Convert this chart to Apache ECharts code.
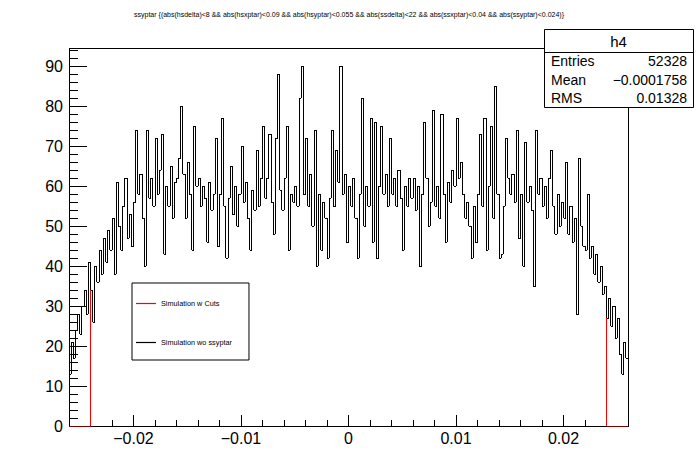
<!DOCTYPE html>
<html><head><meta charset="utf-8">
<script src="https://cdn.jsdelivr.net/npm/echarts@6/dist/echarts.min.js"></script>
<style>html,body{margin:0;padding:0;background:#fff}#c{width:698px;height:474px}
#c svg path[fill="none"]{shape-rendering:crispEdges}</style>
</head><body><div id="c"></div>
<script>
const titleText = 'ssyptar {(abs(hsdelta)<8 && abs(hsxptar)<0.09 && abs(hsyptar)<0.055 && abs(ssdelta)<22 && abs(ssxptar)<0.04 && abs(ssyptar)<0.024)}';
const xMin = -0.026, xMax = 0.026, binWidth = 0.0002;
const cutLow = -0.024, cutHigh = 0.024;
const counts = [
  13, 21, 17, 24, 28, 23, 30, 34, 28, 41,
  34, 26, 40, 36, 44, 38, 47, 41, 49, 44,
  52, 38, 61, 50, 44, 55, 62, 47, 53, 45,
  56, 74, 58, 63, 52, 40, 74, 57, 62, 55,
  72, 58, 64, 73, 43, 60, 55, 65, 52, 61,
  62, 67, 80, 63, 52, 66, 58, 44, 75, 60,
  62, 55, 60, 57, 46, 61, 54, 58, 72, 45,
  58, 77, 55, 42, 57, 65, 53, 60, 50, 58,
  70, 56, 61, 52, 44, 59, 54, 69, 55, 62,
  75, 57, 62, 73, 56, 48, 72, 88, 59, 54,
  62, 75, 44, 58, 56, 60, 55, 82, 90, 58,
  72, 55, 63, 50, 74, 40, 58, 44, 56, 52,
  42, 57, 74, 55, 69, 61, 90, 58, 63, 46,
  60, 55, 62, 52, 42, 58, 82, 50, 60, 55,
  77, 46, 76, 42, 60, 75, 58, 63, 55, 72,
  58, 62, 55, 64, 57, 44, 60, 55, 62, 57,
  62, 54, 60, 40, 58, 76, 62, 50, 56, 79,
  55, 60, 52, 78, 58, 46, 61, 56, 64, 60,
  77, 62, 66, 58, 52, 56, 50, 42, 55, 46,
  58, 73, 55, 77, 44, 60, 75, 52, 85, 58,
  42, 43, 55, 72, 62, 58, 63, 56, 74, 47,
  58, 40, 71, 56, 60, 54, 35, 74, 58, 62,
  55, 60, 52, 62, 69, 55, 48, 58, 50, 56,
  52, 66, 48, 55, 46, 52, 28, 67, 50, 45,
  44, 58, 42, 45, 38, 43, 36, 40, 33, 35,
  27, 32, 25, 30, 22, 27, 18, 13, 21, 17
];
const xTickValues = [-0.02, -0.01, 0, 0.01, 0.02];
const yTickValues = [0, 10, 20, 30, 40, 50, 60, 70, 80, 90];
const yMax = 94.5;
const seriesNames = ['Simulation w Cuts', 'Simulation wo ssyptar'];
const statsName = 'h4';
const statsLabels = ['Entries', 'Mean', 'RMS'];
const statsValues = ['52328', '\u22120.0001758', '0.01328'];

const FONT = "'Liberation Sans', Arial, Helvetica, sans-serif";
const edges = counts.map((_, i) => +(xMin + i * binWidth).toFixed(6));
const blackData = counts.map((v, i) => [edges[i], v]);
blackData.push([xMax, counts[counts.length - 1]]);
const iLow = Math.round((cutLow - xMin) / binWidth);
const iHigh = Math.round((cutHigh - xMin) / binWidth);
const redData = counts.map((v, i) => [edges[i], (i >= iLow && i < iHigh) ? v : 0]);
redData.push([xMax, 0]);

const fmt = v => String(+v.toFixed(4)).replace('-', '\u2212');

const chart = echarts.init(document.getElementById('c'), null, {renderer: 'svg'});
const statsX = 544, statsY = 29, statsW = 149, statsH = 78, headH = 23;
const rowYs = [61, 79.5, 98];
const graphics = [
  {type: 'rect', z: 100, shape: {x: statsX + 0.5, y: statsY + 0.5, width: statsW, height: statsH},
   style: {fill: '#fff', stroke: '#000', lineWidth: 1}},
  {type: 'line', z: 101, shape: {x1: statsX, y1: statsY + headH + 0.5, x2: statsX + statsW, y2: statsY + headH + 0.5},
   style: {stroke: '#000', lineWidth: 1}},
  {type: 'text', z: 101, x: statsX + statsW / 2, y: statsY + headH / 2 + 1,
   style: {text: statsName, font: '15px ' + FONT, fill: '#000', textAlign: 'center', textVerticalAlign: 'middle'}}
];
statsLabels.forEach((l, k) => {
  graphics.push({type: 'text', z: 101, x: statsX + 7, y: rowYs[k],
    style: {text: l, font: '14px ' + FONT, fill: '#000', textAlign: 'left', textVerticalAlign: 'middle'}});
  graphics.push({type: 'text', z: 101, x: statsX + 143, y: rowYs[k],
    style: {text: statsValues[k], font: '14px ' + FONT, fill: '#000', textAlign: 'right', textVerticalAlign: 'middle'}});
});

chart.setOption({
  animation: false,
  backgroundColor: '#fff',
  title: {text: titleText, left: 'center', top: 11, padding: 0,
    textStyle: {fontSize: 7, fontWeight: 'normal', color: '#000', fontFamily: FONT}},
  grid: {left: 69, right: 70, top: 48, bottom: 48, show: true, borderColor: '#000', borderWidth: 1, backgroundColor: 'transparent'},
  legend: {orient: 'vertical', left: 132, top: 283, padding: [17, 17, 14, 4], itemGap: 32,
    itemWidth: 20, itemHeight: 1.2, borderColor: '#000', borderWidth: 1, backgroundColor: '#fff',
    selectedMode: false, icon: 'rect',
    textStyle: {fontSize: 7.3, color: '#000', fontFamily: FONT},
    data: seriesNames},
  xAxis: [
    {type: 'value', min: xMin, max: xMax, position: 'bottom',
     axisLine: {show: true, onZero: false, lineStyle: {color: '#000', width: 1}},
     axisTick: {show: true, inside: true, length: 11, customValues: xTickValues, lineStyle: {color: '#000'}},
     axisLabel: {show: true, customValues: xTickValues, formatter: fmt, margin: 4, color: '#000', fontSize: 16, fontFamily: FONT},
     splitLine: {show: false}},
    {type: 'value', min: xMin, max: xMax, interval: 0.002, position: 'bottom',
     axisLine: {show: false, onZero: false},
     axisTick: {show: true, inside: true, length: 6, lineStyle: {color: '#000'}},
     axisLabel: {show: false}, splitLine: {show: false}}
  ],
  yAxis: [
    {type: 'value', min: 0, max: yMax, position: 'left',
     axisLine: {show: true, onZero: false, lineStyle: {color: '#000', width: 1}},
     axisTick: {show: true, inside: true, length: 18, customValues: yTickValues, lineStyle: {color: '#000'}},
     axisLabel: {show: true, customValues: yTickValues, margin: 6, color: '#000', fontSize: 16, fontFamily: FONT},
     splitLine: {show: false}},
    {type: 'value', min: 0, max: yMax, interval: 2, position: 'left',
     axisLine: {show: false, onZero: false},
     axisTick: {show: true, inside: true, length: 9, lineStyle: {color: '#000'}},
     axisLabel: {show: false}, splitLine: {show: false}}
  ],
  series: [
    {name: seriesNames[0], type: 'line', step: 'end', data: redData, xAxisIndex: 0, yAxisIndex: 0,
     symbol: 'none', z: 2, color: '#ff0000', lineStyle: {color: '#ff0000', width: 1}},
    {name: seriesNames[1], type: 'line', step: 'end', data: blackData, xAxisIndex: 0, yAxisIndex: 0,
     symbol: 'none', z: 3, color: '#000000', lineStyle: {color: '#000000', width: 1}}
  ],
  graphic: graphics
});
</script>
</body></html>
